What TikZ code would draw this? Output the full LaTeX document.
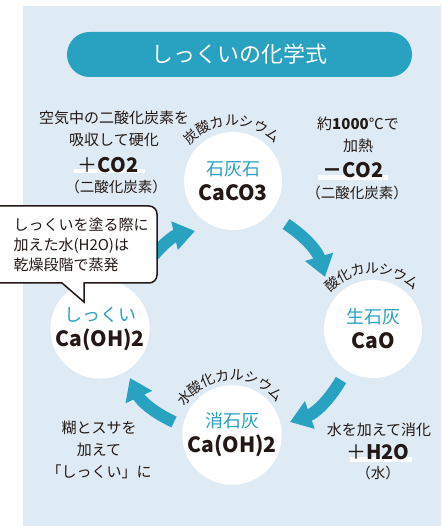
\documentclass[tikz,border=0pt]{standalone}
\usepackage{fontspec}
\setmainfont{Noto Sans CJK JP}
\usetikzlibrary{arrows.meta}
\definecolor{paper}{RGB}{223,235,244}
\definecolor{kilnblue}{RGB}{41,161,192}
\definecolor{ink}{RGB}{35,24,21}
\tikzstyle{stage}=[circle, fill=white, minimum size=98pt, inner sep=0pt, align=center, text=ink, font=\fontsize{18}{25}\selectfont]
\tikzset{note/.style={text=ink, align=center, font=\fontsize{15}{22}\selectfont}}
\tikzset{small/.style={text=ink, font=\fontsize{14}{18}\selectfont}}
\tikzset{arcchar/.style={small, inner sep=0pt}}
\tikzset{gain/.style={text=ink, font=\fontsize{20}{24}\selectfont}}
\tikzset{flow/.style={line width=12pt, color=kilnblue, -{Triangle[length=21pt,width=28pt]}}}
\newcommand{\mineral}[2]{{\color{kilnblue}#1}\\{\fontsize{21}{25}\selectfont\bfseries #2}}

\begin{document}
\begin{tikzpicture}[x=1pt,y=1pt]
  \useasboundingbox (0,0) rectangle (441,526);
  \fill[paper] (23,0) rectangle (441,520);
  \draw (239.5,471.5) node[fill=kilnblue, rounded corners=22.5pt, minimum width=345pt, minimum height=45pt, text=white, font=\fontsize{22}{26}\selectfont] (title) {しっくいの化学式};

  \draw (233,345) node[stage] (S1) {\mineral{石灰石}{CaCO3}};
  \draw (373,197) node[stage] (S2) {\mineral{生石灰}{CaO}};
  \draw (232,91) node[stage] (S3) {\mineral{消石灰}{Ca(OH)2}};
  \draw (100,197) node[stage] (S4) {\mineral{しっくい}{Ca(OH)2}};

  %% names round the circles
  \foreach \c [count=\i] in {炭,酸,カ,ル,シ,ウ,ム}
    \draw (S1) ++({133-(\i-1)*14}:61) node[arcchar, rotate={43-(\i-1)*14}] {\c};
  \foreach \c [count=\i] in {酸,化,カ,ル,シ,ウ,ム}
    \draw (S2) ++({132-(\i-1)*13.7}:61) node[arcchar, rotate={42-(\i-1)*13.7}] {\c};
  \foreach \c [count=\i] in {水,酸,化,カ,ル,シ,ウ,ム}
    \draw (S3) ++({142-(\i-1)*14.2}:60) node[arcchar, rotate={52-(\i-1)*14.2}] {\c};

  %% cycle arrows
  \coordinate (A1) at (150,266);
  \coordinate (B1) at (195,295);
  \coordinate (A2) at (286,302);
  \coordinate (B2) at (325,249);
  \coordinate (A3) at (341,146);
  \coordinate (B3) at (290,104);
  \coordinate (A4) at (174,104);
  \coordinate (B4) at (130,148);
  \draw[flow] (A1) to[bend left=20] (B1);
  \draw[flow] (A2) to[bend left=20] (B2);
  \draw[flow] (A3) to[bend left=20] (B3);
  \draw[flow] (A4) to[bend left=20] (B4);

  %% speech bubble
  \draw[fill=white, line width=1.5pt, draw=ink] (-10,320) [rounded corners=8pt] -- (157,320) -- (157,243)
    [sharp corners] -- (84,243) -- (84,224) -- (62,243) [rounded corners=8pt] -- (-10,243) -- cycle;
  \draw (10,281) node[note, anchor=west, align=left, font=\fontsize{15}{20}\selectfont] (dry) {しっくいを塗る際に\\加えた水(H2O)は\\乾燥段階で蒸発};

  %% left top
  \draw (114,397) node[note] (absorb) {空気中の二酸化炭素を\\吸収して硬化};
  \fill[white] (74,353) rectangle (145,357);
  \draw (108,361) node[gain] (plusco) {＋\textbf{CO2}};
  \draw (116,339) node[small, font=\fontsize{14.5}{18}\selectfont] (plusname) {（二酸化炭素）};

  %% right top
  \draw (358,391) node[note] (heat) {約\textbf{1000}℃で\\加熱};
  \fill[white] (318,346) rectangle (388,351);
  \draw (353,356) node[gain] (minusco) {\textbf{－CO2}};
  \draw (357,333) node[small, font=\fontsize{14.5}{18}\selectfont] (minusname) {（二酸化炭素）};

  %% bottom left
  \draw (99,76) node[note] (paste) {糊とスサを\\加えて\\「しっくい」に};

  %% bottom right
  \draw (379,96) node[note] (slake) {水を加えて消化};
  \fill[white] (350,64) rectangle (412,69);
  \draw (378,74) node[gain] (plusho) {＋\textbf{H2O}};
  \draw (378,53) node[small, font=\fontsize{14.5}{18}\selectfont] (plushoname) {（水）};
\end{tikzpicture}
\end{document}
